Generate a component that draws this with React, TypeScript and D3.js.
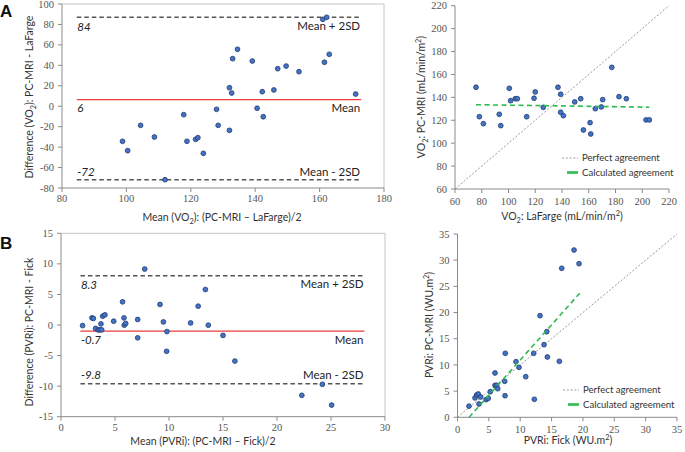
import React from 'react';
import * as d3 from 'd3';

// ---------- Panel A (VO2) Bland-Altman ----------
const vo2BaMean = [98.8, 100.4, 104.4, 108.7, 112, 117.8, 118.8, 121.5, 122.2, 123.9, 128, 128.5, 132, 132, 132.7, 133, 134.5, 139.1, 140.6, 142.2, 142.5, 145.8, 147, 149.6, 153.6, 161, 162.2, 161.5, 163, 171.2];
const vo2BaDiff = [-34.3, -43.5, -18.7, -30.1, -71.9, -8.3, -34.3, -32.4, -30.8, -46.1, -3, -18.7, -23.6, 18.1, 12.9, 46.5, 55.7, 44.2, -2, 14.2, -10.3, 15.9, 36.7, 39.3, 33.8, 85, 87, 43, 50.8, 11.9];
const vo2BaLineValues = [87, 6.5, -72];
const vo2BaLineNumbers = ['84', '6', '-72'];
const vo2BaLineRange = [84.6, 172.9];
const vo2BaXTicks = [80, 100, 120, 140, 160, 180];
const vo2BaYTicks = [-80, -60, -40, -20, 0, 20, 40, 60, 80, 100];

// ---------- Panel A (VO2) scatter ----------
const vo2LaFarge = [75.7, 78.2, 81.2, 93.1, 94.2, 100.6, 101.6, 105.1, 106.6, 113.6, 119.1, 120, 126, 137, 139, 139, 141, 149.5, 154, 156, 161, 161.5, 164.9, 169.4, 170.4, 177.2, 182.6, 188.1, 202.8, 205.3];
const vo2PcMri = [148.8, 123.1, 117, 125.2, 115.3, 147.9, 137.1, 138.8, 138.8, 123.1, 139.2, 144.7, 131.3, 148.8, 142.7, 127, 124, 136, 138.8, 111.5, 117.9, 108, 130.1, 131.6, 138, 166.2, 140.6, 138.8, 120.3, 120.3];
const vo2CalcLine = [[75.7, 133.6], [205.3, 131.4]];
const vo2XTicks = [60, 80, 100, 120, 140, 160, 180, 200, 220];
const vo2YTicks = [60, 80, 100, 120, 140, 160, 180, 200, 220];

// ---------- Panel B (PVRi) Bland-Altman ----------
const pvrBaMean = [2.0, 2.87, 3.0, 3.2, 3.45, 3.6, 3.77, 3.7, 3.86, 4.07, 4.88, 5.7, 5.83, 5.86, 5.99, 7.1, 7.1, 7.75, 9.17, 9.48, 9.81, 9.78, 12.0, 12.7, 13.37, 13.64, 15.0, 16.1, 22.3, 24.2, 25.06];
const pvrBaDiff = [-0.1, 1.16, 1.07, -0.57, -0.8, -0.8, -0.8, 0.18, 1.44, 1.66, 0.62, 3.79, 1.16, -0.03, 0.25, 0.9, -2.1, 9.15, 3.36, 0.5, -1.07, -4.3, 0.34, 3.08, 5.8, -0.03, -1.7, -5.9, -11.5, -9.7, -13.1];
const pvrBaLineValues = [8.05, -1.0, -9.6];
const pvrBaLineNumbers = ['8.3', '-0.7', '-9.8'];
const pvrBaLineRange = [1.8, 28.1];
const pvrBaXTicks = [0, 5, 10, 15, 20, 25, 30];
const pvrBaYTicks = [-15, -10, -5, 0, 5, 10, 15];

// ---------- Panel B (PVRi) scatter ----------
const pvrFick = [1.83, 2.79, 3.06, 3.3, 3.7, 3.43, 4.55, 4.91, 5.23, 5.98, 5.98, 6.25, 6.41, 7.53, 7.58, 7.62, 9.33, 9.81, 10.88, 12.15, 12.25, 13.16, 13.8, 14.23, 14.33, 16.24, 16.62, 18.58, 19.38];
const pvrPcMri = [2.13, 3.69, 4.26, 4.45, 3.88, 2.54, 3.37, 3.62, 4.89, 8.46, 6.1, 6.1, 5.46, 6.87, 4.12, 12.22, 10.62, 9.54, 7.75, 12.22, 3.44, 19.4, 13.86, 16.34, 11.51, 10.69, 28.45, 31.94, 29.33];
const pvrCalcLine = [[1.85, 0], [19.5, 23.7]];
const pvrXTicks = [0, 5, 10, 15, 20, 25, 30, 35];
const pvrYTicks = [0, 5, 10, 15, 20, 25, 30, 35];

const legendLabels = ['Perfect agreement', 'Calculated agreement'];
const meanLabels = ['Mean + 2SD', 'Mean', 'Mean - 2SD'];

type Part = { t: string; sub?: boolean; sup?: boolean };

const TICK_FONT = '"Liberation Serif", "DejaVu Serif", serif';
const SANS = 'Lato, "Open Sans", sans-serif';
const POINT_FILL = '#4472c4';
const POINT_STROKE = '#1f3b70';

function RichText({ parts, size }: { parts: Part[]; size: number }) {
  const out: React.ReactNode[] = [];
  let shift = 0;
  parts.forEach((p, i) => {
    const target = p.sub ? size * 0.3 : p.sup ? -size * 0.4 : 0;
    const dy = target - shift;
    shift = target;
    out.push(
      <tspan key={i} dy={dy} fontSize={p.sub || p.sup ? size * 0.7 : size}>
        {p.t}
      </tspan>
    );
  });
  return <>{out}</>;
}

function Axes({ x, y, xTicks, yTicks, xLabelDy, yLabelDx }: any) {
  const [x0] = x.range();
  const [y0] = y.range();
  return (
    <g>
      <line x1={x0} x2={x.range()[1]} y1={y0} y2={y0} stroke="#8a8a8a" strokeWidth={1} />
      <line x1={x0} x2={x0} y1={y.range()[0]} y2={y.range()[1]} stroke="#8a8a8a" strokeWidth={1} />
      {xTicks.map((t: number) => (
        <g key={'x' + t}>
          <line x1={x(t)} x2={x(t)} y1={y0} y2={y0 + 4} stroke="#8a8a8a" />
          <text x={x(t)} y={y0 + xLabelDy} textAnchor="middle" fontFamily={TICK_FONT} fontSize={10.5} fill="#555">
            {t}
          </text>
        </g>
      ))}
      {yTicks.map((t: number) => (
        <g key={'y' + t}>
          <line x1={x0 - 4} x2={x0} y1={y(t)} y2={y(t)} stroke="#8a8a8a" />
          <text x={x0 - yLabelDx} y={y(t) + 3.6} textAnchor="end" fontFamily={TICK_FONT} fontSize={10.5} fill="#555">
            {t}
          </text>
        </g>
      ))}
    </g>
  );
}

function Points({ xs, ys, x, y }: any) {
  return (
    <g>
      {xs.map((v: number, i: number) => (
        <circle key={i} cx={x(v)} cy={y(ys[i])} r={2.4} fill={POINT_FILL} stroke={POINT_STROKE} strokeWidth={0.8} />
      ))}
    </g>
  );
}

function BlandPanel(props: any) {
  const { xs, ys, xDomain, xRange, yDomain, yRange, xTicks, yTicks, lineValues, lineNumbers, lineRange, xTitle, yTitle, xTitlePos, yTitlePos, numDy, meanDy } = props;
  const x = d3.scaleLinear().domain(xDomain).range(xRange);
  const y = d3.scaleLinear().domain(yDomain).range(yRange);
  const lx1 = x(lineRange[0]);
  const lx2 = x(lineRange[1]);
  return (
    <g>
      <line x1={xRange[0]} x2={xRange[1]} y1={yRange[1]} y2={yRange[1]} stroke="#c4c4c4" />
      <line x1={xRange[1]} x2={xRange[1]} y1={yRange[1]} y2={yRange[0]} stroke="#c4c4c4" />
      <Axes x={x} y={y} xTicks={xTicks} yTicks={yTicks} xLabelDy={14} yLabelDx={8} />
      {lineValues.map((v: number, i: number) => (
        <line key={i} x1={lx1} x2={lx2} y1={y(v)} y2={y(v)}
          stroke={i === 1 ? '#ee3b3b' : '#555'} strokeWidth={1.4}
          strokeDasharray={i === 1 ? undefined : '4.5,3'} />
      ))}
      {lineValues.map((v: number, i: number) => (
        <text key={'n' + i} x={lx1 + 0.5} y={y(v) + numDy[i]} fontFamily={SANS} fontStyle="italic" fontSize={11.5} fill="#222">
          {lineNumbers[i]}
        </text>
      ))}
      {lineValues.map((v: number, i: number) => (
        <text key={'m' + i} x={lx2 - 1} y={y(v) + meanDy[i]} textAnchor="end" fontFamily={SANS} fontSize={11.5} fill="#222">
          {meanLabels[i]}
        </text>
      ))}
      <Points xs={xs} ys={ys} x={x} y={y} />
      <text x={xTitlePos[0]} y={xTitlePos[1]} textAnchor="middle" fontFamily={SANS} fontSize={10.5} fill="#333">
        <RichText parts={xTitle} size={10.5} />
      </text>
      <text transform={`translate(${yTitlePos[0]},${yTitlePos[1]}) rotate(-90)`} textAnchor="middle" fontFamily={SANS} fontSize={10.5} fill="#333">
        <RichText parts={yTitle} size={10.5} />
      </text>
    </g>
  );
}

function ScatterPanel(props: any) {
  const { xs, ys, xDomain, xRange, yDomain, yRange, xTicks, yTicks, calc, xTitle, yTitle, xTitlePos, yTitlePos, legendPos } = props;
  const x = d3.scaleLinear().domain(xDomain).range(xRange);
  const y = d3.scaleLinear().domain(yDomain).range(yRange);
  const lineGen = d3.line<number[]>().x((d) => x(d[0])).y((d) => y(d[1]));
  const [lgx, lgy] = legendPos;
  return (
    <g>
      <Axes x={x} y={y} xTicks={xTicks} yTicks={yTicks} xLabelDy={16} yLabelDx={8} />
      <path d={lineGen([[xDomain[0], yDomain[0]], [xDomain[1], yDomain[1]]]) || ''} stroke="#8c8c8c" strokeWidth={0.9} strokeDasharray="2,1.8" fill="none" />
      <Points xs={xs} ys={ys} x={x} y={y} />
      <path d={lineGen(calc) || ''} stroke="#2dbb4e" strokeWidth={1.6} strokeDasharray="5,3.5" fill="none" />
      <line x1={lgx} x2={lgx + 16} y1={lgy} y2={lgy} stroke="#8c8c8c" strokeWidth={0.9} strokeDasharray="2,1.8" />
      <text x={lgx + 20} y={lgy + 3.3} fontFamily={SANS} fontSize={9.6} fill="#333">{legendLabels[0]}</text>
      <line x1={lgx + 5} x2={lgx + 16} y1={lgy + 14.5} y2={lgy + 14.5} stroke="#2dbb4e" strokeWidth={2.6} />
      <text x={lgx + 20} y={lgy + 17.8} fontFamily={SANS} fontSize={9.6} fill="#333">{legendLabels[1]}</text>
      <text x={xTitlePos[0]} y={xTitlePos[1]} textAnchor="middle" fontFamily={SANS} fontSize={10.5} fill="#333">
        <RichText parts={xTitle} size={10.5} />
      </text>
      <text transform={`translate(${yTitlePos[0]},${yTitlePos[1]}) rotate(-90)`} textAnchor="middle" fontFamily={SANS} fontSize={10.5} fill="#333">
        <RichText parts={yTitle} size={10.5} />
      </text>
    </g>
  );
}

export default function App() {
  return (
    <svg width={685} height={452} style={{ position: 'absolute', left: 0, top: 0, background: '#fff' }}>
      <rect width={685} height={452} fill="#fff" />
      <text x={0} y={17} fontFamily='"Liberation Sans", Arial, sans-serif' fontWeight="bold" fontSize={17} fill="#111">A</text>
      <text x={0} y={249} fontFamily='"Liberation Sans", Arial, sans-serif' fontWeight="bold" fontSize={17} fill="#111">B</text>

      <BlandPanel
        xs={vo2BaMean} ys={vo2BaDiff}
        xDomain={[80, 180]} xRange={[62, 384]}
        yDomain={[-80, 100]} yRange={[188, 4]}
        xTicks={vo2BaXTicks} yTicks={vo2BaYTicks}
        lineValues={vo2BaLineValues} lineNumbers={vo2BaLineNumbers} lineRange={vo2BaLineRange}
        numDy={[14, 12.5, -4]} meanDy={[13, 12.5, -4]}
        xTitle={[{ t: 'Mean (VO' }, { t: '2', sub: true }, { t: '): (PC-MRI – LaFarge)/2' }]}
        yTitle={[{ t: 'Difference (VO' }, { t: '2', sub: true }, { t: '): PC-MRI - LaFarge' }]}
        xTitlePos={[222, 221]} yTitlePos={[33, 97]}
      />

      <ScatterPanel
        xs={vo2LaFarge} ys={vo2PcMri}
        xDomain={[60, 220]} xRange={[455, 669]}
        yDomain={[60, 220]} yRange={[189, 5.7]}
        xTicks={vo2XTicks} yTicks={vo2YTicks}
        calc={vo2CalcLine}
        xTitle={[{ t: 'VO' }, { t: '2', sub: true }, { t: ': LaFarge (mL/min/m' }, { t: '2', sup: true }, { t: ')' }]}
        yTitle={[{ t: 'VO' }, { t: '2', sub: true }, { t: ': PC-MRI (mL/min/m' }, { t: '2', sup: true }, { t: ')' }]}
        xTitlePos={[562, 220]} yTitlePos={[425, 97]}
        legendPos={[562, 158]}
      />

      <BlandPanel
        xs={pvrBaMean} ys={pvrBaDiff}
        xDomain={[0, 30]} xRange={[61, 385]}
        yDomain={[-15, 15]} yRange={[416.7, 233.3]}
        xTicks={pvrBaXTicks} yTicks={pvrBaYTicks}
        lineValues={pvrBaLineValues} lineNumbers={pvrBaLineNumbers} lineRange={pvrBaLineRange}
        numDy={[13, 12.5, -5]} meanDy={[12.5, 13, -5]}
        xTitle={[{ t: 'Mean (PVRi): (PC-MRI – Fick)/2' }]}
        yTitle={[{ t: 'Difference (PVRi): PC-MRI - Fick' }]}
        xTitlePos={[203, 445]} yTitlePos={[33, 332]}
      />

      <ScatterPanel
        xs={pvrFick} ys={pvrPcMri}
        xDomain={[0, 35]} xRange={[457.5, 677]}
        yDomain={[0, 35]} yRange={[417.3, 234]}
        xTicks={pvrXTicks} yTicks={pvrYTicks}
        calc={pvrCalcLine}
        xTitle={[{ t: 'PVRi: Fick (WU.m' }, { t: '2', sup: true }, { t: ')' }]}
        yTitle={[{ t: 'PVRi: PC-MRI (WU.m' }, { t: '2', sup: true }, { t: ')' }]}
        xTitlePos={[568, 444]} yTitlePos={[433, 325]}
        legendPos={[563, 390]}
      />
    </svg>
  );
}
